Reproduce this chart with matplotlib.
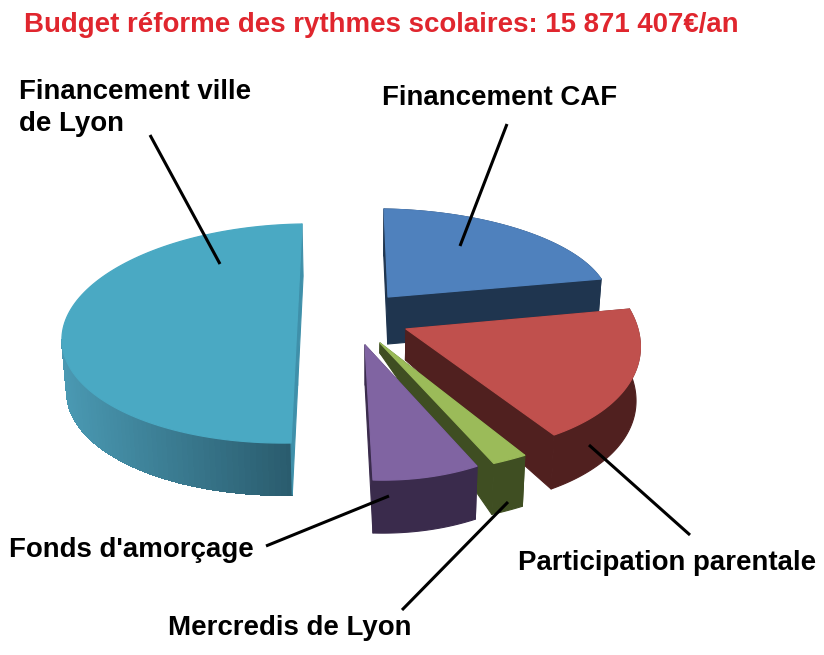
import numpy as np
import matplotlib
matplotlib.use("Agg")
import matplotlib.pyplot as plt

plt.rcParams['font.family'] = ['Liberation Sans', 'DejaVu Sans']

title = "Budget réforme des rythmes scolaires: 15 871 407€/an"

# shares of the budget, clockwise from the top
slices = ["Financement CAF", "Participation parentale", "Mercredis de Lyon", "Fonds d'amorçage", "Financement ville de Lyon"]
shares = [0.21, 0.19, 0.02, 0.08, 0.50]

# face colour, wall colour
face_colors = ["#4f81bd", "#c0504d", "#9bbb59", "#8064a2", "#4aa9c3"]
wall_colors = ["#1f354f", "#50201f", "#3f4e22", "#3a2b4c", "#3f90aa"]

# projection of each exploded slice: apex, x axis, y axis, rim depth, apex depth
apex = [(388, 297), (406, 329), (380, 343), (365, 345), (296.5, 333.5)]
axis_u = [(221, 4), (234, 11), (278, 8), (218, 6), (234.5, -3.5)]
axis_v = [(-4, -88), (-13, -123), (23, -133), (-8, -135), (5.5, -109.5)]
rim_depth = [47, 54, 51, 53, 52]
apex_depth = [47, 31, 10, 40, 52]
draw_order = [4, 0, 1, 2, 3]

label_text = ["Financement CAF", "Participation parentale", "Mercredis de Lyon", "Fonds d'amorçage", "Financement ville\nde Lyon"]
label_pos = [(382, 98), (518, 563), (168, 628), (9, 550), (19, 108)]
leaders = [((507, 124), (460, 246)), ((690, 535), (589, 445)), ((402, 610), (508, 502)), ((266, 546), (389, 496)), ((150, 135), (220, 264))]


def project(i, theta):
    u, v = np.sin(theta), np.cos(theta)
    x = apex[i][0] + u * axis_u[i][0] + v * axis_v[i][0]
    y = apex[i][1] + u * axis_u[i][1] + v * axis_v[i][1]
    return x, y


def drop(x, y, depth):
    # walls lean towards a common vanishing point
    return x + (370 - x) * 0.016, y + depth


fig = plt.figure(figsize=(8.24, 6.55), dpi=100)
ax = fig.add_axes([0, 0, 1, 1])
ax.set_xlim(0, 824)
ax.set_ylim(655, 0)
ax.axis("off")

edges = np.cumsum([0] + shares) * 2 * np.pi

for n, i in enumerate(draw_order):
    t = np.linspace(edges[i], edges[i + 1], 121)
    px, py = project(i, t)
    ax0, ay0 = apex[i]
    bx0, by0 = drop(ax0, ay0, apex_depth[i])
    bx, by = drop(px, py, rim_depth[i])

    # outer wall, the big slice in strips so it can carry its gradient
    if i == 4:
        for k in range(len(t) - 1):
            # only the front half shows, the back would poke out at the cut
            if t[k] > np.radians(268):
                break
            f = (px[k] - 62) / (292 - 62)
            c = (0.29 - 0.125 * f, 0.60 - 0.24 * f, 0.70 - 0.27 * f)
            ax.fill([px[k], px[k + 1], bx[k + 1], bx[k]], [py[k], py[k + 1], by[k + 1], by[k]],
                    color=c, lw=0.8, antialiased=False, zorder=1 + n * 3)
    else:
        ax.fill(np.r_[px, bx[::-1]], np.r_[py, by[::-1]], color=wall_colors[i], lw=0.8, joinstyle="round", zorder=1 + n * 3)

    # the two cut walls
    for k in (0, -1):
        ax.fill([ax0, px[k], bx[k], bx0], [ay0, py[k], by[k], by0], color=wall_colors[i], lw=0.8, joinstyle="round", zorder=2 + n * 3)

    # top face
    ax.fill(np.r_[ax0, px], np.r_[ay0, py], color=face_colors[i], lw=0.9, joinstyle="round", zorder=3 + n * 3)

for a, b in leaders:
    ax.plot([a[0], b[0]], [a[1], b[1]], color="black", lw=2.2, solid_capstyle="butt", zorder=30)

ax.text(24, 25, title, color="#e0262e", fontsize=19.9, fontweight="bold", va="center", ha="left", zorder=31)
for s, p in zip(label_text, label_pos):
    ax.text(p[0], p[1], s, color="black", fontsize=19.9, fontweight="bold", va="center", ha="left", linespacing=1.3, zorder=31)

fig.savefig("out.png", dpi=100)
